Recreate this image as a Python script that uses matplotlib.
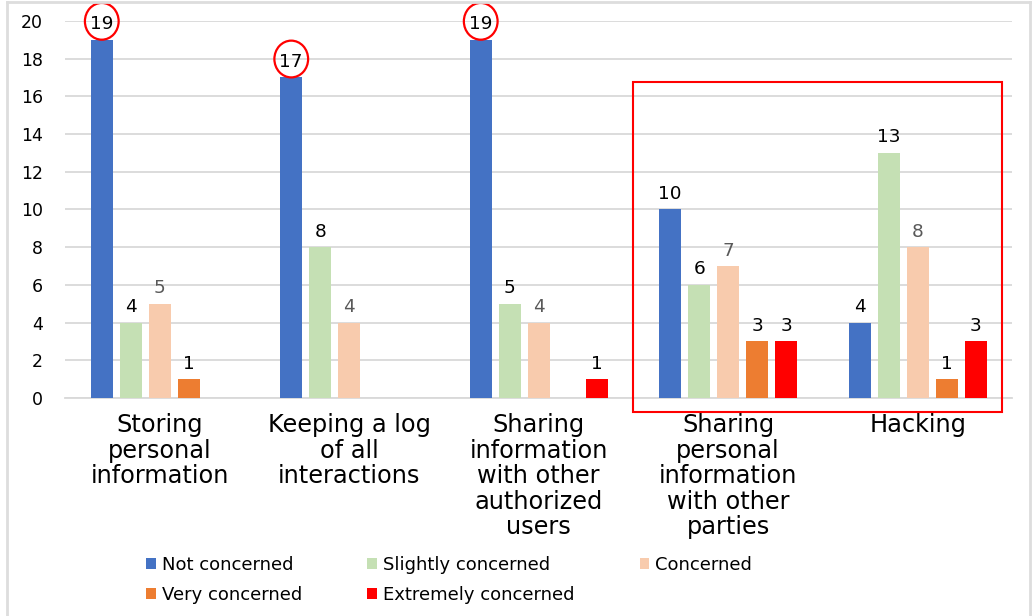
import numpy as np
import matplotlib.pyplot as plt
from matplotlib.patches import Ellipse, Rectangle
from matplotlib.lines import Line2D

plt.rc('font', family='DejaVu Sans', size=12)
plt.rc('xtick', labelsize=17.3)
plt.rc('ytick', labelsize=12.5)
plt.rc('legend', fontsize=13)

categories = ['Storing\npersonal\ninformation',
              'Keeping a log\nof all\ninteractions',
              'Sharing\ninformation\nwith other\nauthorized\nusers',
              'Sharing\npersonal\ninformation\nwith other\nparties',
              'Hacking']
series_names = ['Not concerned', 'Slightly concerned', 'Concerned',
                'Very concerned', 'Extremely concerned']
not_concerned = [19, 17, 19, 10, 4]
slightly_concerned = [4, 8, 5, 6, 13]
concerned = [5, 4, 4, 7, 8]
very_concerned = [1, 0, 0, 3, 1]
extremely_concerned = [0, 0, 1, 3, 3]
yticks = [0, 2, 4, 6, 8, 10, 12, 14, 16, 18, 20]

circled_groups = [0, 1, 2]      # "Not concerned" labels ringed in red
boxed_groups = [3, 4]           # groups inside the red frame

colors = ['#4472C4', '#C5E0B4', '#F8CBAD', '#ED7D31', '#FF0000']
label_colors = ['black', 'black', '#595959', 'black', 'black']
all_series = [not_concerned, slightly_concerned, concerned,
              very_concerned, extremely_concerned]

fig = plt.figure(figsize=(10.32, 6.16), dpi=100)
ax = fig.add_axes([0.063, 0.354, 0.918, 0.612])

x = np.arange(len(categories))
step = 0.153
width = 0.116

handles = []
for i, (vals, col) in enumerate(zip(all_series, colors)):
    xs = x + (i - 2) * step
    bars = ax.bar(xs, vals, width=width, color=col, zorder=3)
    handles.append(bars)
    for xi, v in zip(xs, vals):
        if v > 0:
            ax.annotate(str(v), (xi, v), xytext=(0, 7.5), textcoords='offset points',
                        ha='center', va='baseline', fontsize=13.3,
                        color=label_colors[i], zorder=4)

# red rings round the top labels
for g in circled_groups:
    ax.add_patch(Ellipse((x[g] - 2 * step, not_concerned[g] + 0.98), 0.178, 1.95,
                         fill=False, edgecolor='#FF0000', lw=1.6,
                         clip_on=False, zorder=5))

# red frame around the last groups
left = x[boxed_groups[0]] - 0.5
right = x[boxed_groups[-1]] + 0.447
ax.add_patch(Rectangle((left, -0.75), right - left, 17.5, fill=False,
                       edgecolor='#FF0000', lw=1.5, clip_on=False, zorder=5))

ax.set_xlim(-0.5, len(categories) - 0.5)
ax.set_ylim(0, 20)
ax.set_yticks(yticks)
ax.set_xticks(x)
ax.set_xticklabels(categories, linespacing=1.08)
ax.tick_params(axis='x', length=0, pad=11)
ax.tick_params(axis='y', length=0, pad=16)
ax.grid(axis='y', color='#D9D9D9', lw=1.3, zorder=0)
for s in ['top', 'right', 'left']:
    ax.spines[s].set_visible(False)
ax.spines['bottom'].set_color('#D9D9D9')
ax.spines['bottom'].set_linewidth(1.3)

# legend fills column-wise, so reorder to get rows like the original
order = [0, 3, 1, 4, 2]
fig.legend([handles[k] for k in order], [series_names[k] for k in order],
           ncol=3, loc='upper left', bbox_to_anchor=(146 / 1032, 1 - 556 / 616),
           frameon=False, borderpad=0, borderaxespad=0, handlelength=0.55,
           handleheight=0.55, handletextpad=0.33, columnspacing=3.6,
           labelspacing=0.68)

# light grey page border
fig.add_artist(Line2D([7 / 1032, 7 / 1032], [0, 1 - 1.5 / 616], color='#DDDDDD', lw=2))
fig.add_artist(Line2D([7 / 1032, 1030 / 1032], [1 - 1.5 / 616, 1 - 1.5 / 616], color='#DDDDDD', lw=2))
fig.add_artist(Line2D([1030 / 1032, 1030 / 1032], [0, 1 - 1.5 / 616], color='#DDDDDD', lw=2))

fig.savefig('out.png', dpi=100)
